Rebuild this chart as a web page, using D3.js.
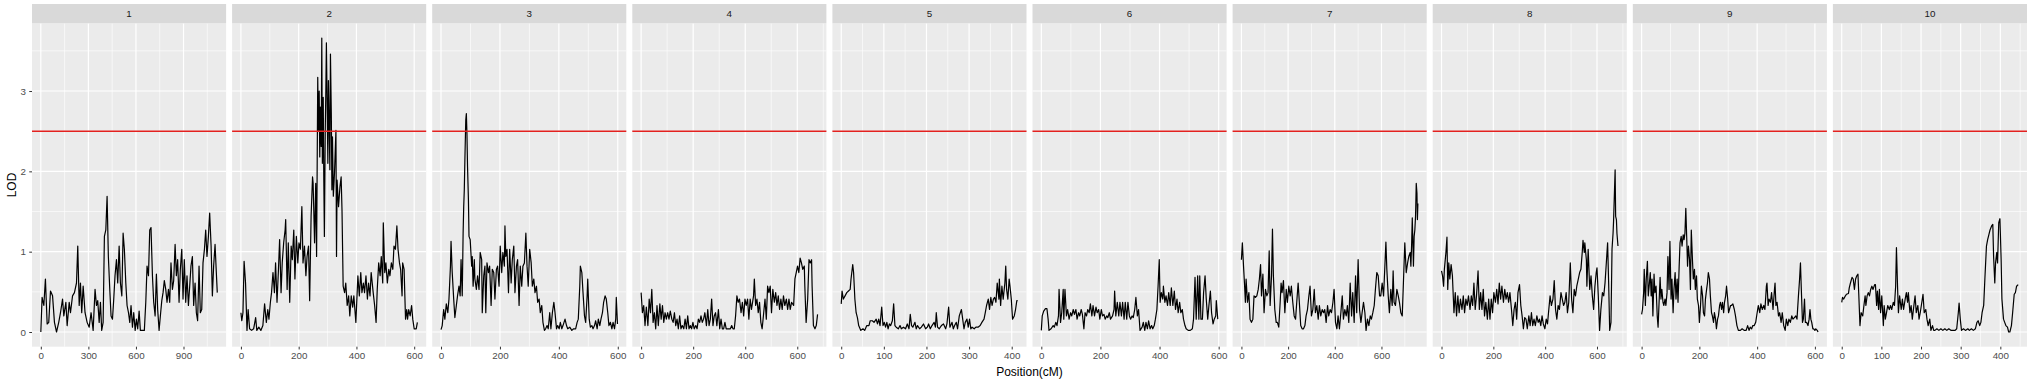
<!DOCTYPE html>
<html>
<head>
<meta charset="utf-8">
<script src="https://cdn.jsdelivr.net/npm/d3@7"></script>
<style>
  body { margin: 0; background: #fff; }
  svg text { font-family: "Liberation Sans", Arial, Helvetica, sans-serif; }
</style>
</head>
<body>
<div id="chart"></div>
<script>
// facet labels (chromosomes)
const chromosomes = ['1', '2', '3', '4', '5', '6', '7', '8', '9', '10'];

// [position (cM), LOD], one array per chromosome
const chr1 = [[0,0],[8,0.43],[19,0.33],[29,0.66],[40,0.1],[50,0.12],[61,0.51],[74,0.45],[86,0.12],[99,0],[113,0.12],[124,0.24],[137,0.41],[145,0.2],[158,0.37],[166,0.08],[179,0.37],[187,0.24],[200,0.45],[212,0.49],[225,0.61],[233,1.07],[242,0.33],[250,0.61],[258,0.24],[267,0.57],[279,0.24],[292,0.12],[305,0.06],[317,0.24],[330,0.02],[342,0.53],[351,0.33],[359,0.39],[368,0.12],[376,0.37],[384,0.02],[393,0.12],[401,1.19],[410,1.27],[418,1.69],[426,0.94],[435,0.53],[443,0.2],[452,0.16],[460,0.41],[468,0.7],[477,0.9],[485,0.61],[494,1.07],[502,0.61],[511,0.45],[519,1.23],[527,1.03],[536,0.61],[544,0.33],[553,0.24],[561,0.12],[569,0.33],[578,0.06],[586,0.24],[595,0.02],[603,0.16],[611,0.04],[620,0.26],[628,0.02],[641,0.02],[653,0.02],[662,0.37],[670,0.82],[679,0.7],[687,1.27],[695,1.3],[704,0.7],[712,0.37],[721,0.2],[729,0.72],[737,0.28],[746,0.02],[754,0.2],[763,0.39],[771,0.49],[779,0.64],[788,0.53],[796,0.37],[805,0.53],[813,0.37],[821,0.86],[830,0.53],[838,0.64],[847,1.09],[855,0.7],[863,0.9],[872,0.37],[880,0.78],[889,1.03],[897,0.41],[905,0.9],[914,0.37],[922,0.7],[931,0.33],[939,0.57],[947,0.82],[956,0.94],[964,0.33],[973,0.61],[981,0.24],[989,0.14],[998,0.82],[1006,0.24],[1015,0.28],[1023,0.86],[1032,1.03],[1040,1.27],[1048,0.94],[1057,1.19],[1065,1.48],[1074,1.07],[1082,0.45],[1090,0.82],[1099,1.09],[1107,0.74],[1113,0.49]];
const chr2 = [[0,0.24],[3,0.14],[7,0.24],[11,0.88],[16,0.61],[21,0.02],[25,0.28],[30,0.04],[37,0.02],[44,0.04],[51,0.18],[55,0.02],[62,0.06],[69,0.02],[76,0.08],[82,0.35],[88,0.12],[93,0.28],[97,0.16],[102,0.37],[106,0.49],[111,0.74],[116,0.49],[120,0.86],[125,0.37],[130,0.78],[134,1.15],[139,0.49],[143,0.86],[148,1.11],[153,1.27],[155,1.4],[160,0.53],[164,1.11],[169,0.37],[174,1.07],[178,0.9],[183,1.27],[187,0.66],[192,1.19],[197,0.86],[201,1.11],[206,1.03],[211,1.56],[215,0.86],[220,1.07],[225,0.7],[229,0.94],[234,1.07],[238,0.39],[243,1.44],[248,1.93],[250,1.85],[255,1.11],[259,1.85],[262,0.94],[266,3.17],[268,2.51],[271,3.0],[273,2.18],[275,2.8],[278,2.31],[280,3.66],[282,2.1],[285,2.92],[287,1.89],[289,1.19],[292,2.51],[294,3.0],[296,3.6],[299,2.72],[301,2.1],[303,3.13],[306,2.51],[308,2.02],[310,3.46],[313,2.72],[315,1.77],[317,2.43],[320,1.69],[324,1.98],[329,2.51],[331,0.94],[333,1.89],[338,1.56],[343,1.81],[347,1.93],[350,1.52],[354,0.57],[359,0.49],[363,0.61],[368,0.33],[373,0.45],[377,0.2],[382,0.45],[387,0.31],[391,0.45],[398,0.12],[405,0.7],[410,0.45],[415,0.74],[419,0.49],[424,0.61],[428,0.49],[433,0.7],[438,0.41],[442,0.61],[447,0.45],[451,0.74],[458,0.49],[463,0.33],[468,0.12],[472,0.53],[477,0.86],[482,0.7],[486,0.94],[491,0.61],[493,1.36],[498,0.74],[502,0.86],[507,0.61],[512,0.78],[516,0.7],[521,0.86],[526,0.78],[530,1.07],[535,1.03],[540,1.32],[544,1.03],[549,0.86],[553,0.78],[558,0.45],[560,0.86],[565,0.78],[567,0.53],[570,0.16],[574,0.28],[577,0.16],[581,0.28],[586,0.2],[591,0.33],[595,0.16],[600,0.04],[607,0.04],[611,0.12]];
const chr3 = [[0,0.03],[4,0.08],[9,0.28],[13,0.16],[18,0.35],[23,0.24],[27,0.41],[32,0.82],[34,1.13],[38,0.74],[43,0.41],[47,0.18],[52,0.33],[56,0.45],[61,0.57],[65,0.45],[68,0.9],[72,0.45],[75,1.23],[77,1.56],[79,1.77],[81,2.14],[84,2.64],[86,2.72],[88,2.47],[90,2.06],[93,1.65],[95,1.19],[99,1.15],[104,0.82],[106,0.94],[109,0.57],[113,0.9],[115,0.66],[120,0.53],[124,0.7],[129,0.53],[133,0.99],[138,0.9],[140,0.24],[145,0.7],[149,0.82],[152,0.24],[156,0.86],[161,0.74],[165,0.82],[170,0.33],[174,0.78],[179,0.74],[183,0.41],[188,0.78],[192,0.82],[197,0.57],[201,1.07],[206,0.74],[210,0.99],[215,0.82],[217,1.32],[220,0.94],[224,1.03],[229,0.49],[233,1.03],[238,0.61],[242,0.9],[247,1.07],[251,0.49],[256,0.82],[260,0.9],[265,0.33],[269,0.82],[274,0.57],[278,0.82],[283,0.86],[288,1.23],[292,0.82],[296,0.57],[301,1.03],[306,0.86],[310,0.57],[315,0.66],[319,0.49],[324,0.57],[328,0.37],[333,0.41],[337,0.24],[342,0.33],[346,0.12],[351,0.02],[355,0.04],[360,0.08],[364,0.04],[369,0.24],[373,0.04],[378,0.24],[383,0.37],[387,0.24],[392,0.04],[396,0.08],[401,0.04],[405,0.12],[410,0.04],[414,0.08],[421,0.16],[426,0.08],[430,0.04],[437,0.06],[444,0.02],[450,0.04],[457,0.04],[462,0.12],[466,0.16],[471,0.57],[473,0.82],[478,0.74],[482,0.49],[487,0.2],[491,0.12],[496,0.45],[498,0.66],[503,0.16],[507,0.06],[512,0.08],[516,0.04],[521,0.08],[525,0.14],[530,0.04],[534,0.16],[539,0.08],[543,0.16],[548,0.24],[552,0.37],[557,0.45],[561,0.41],[566,0.24],[570,0.08],[575,0.12],[580,0.04],[584,0.12],[589,0.04],[593,0.16],[595,0.43],[599,0.1]];
const chr4 = [[0,0.49],[5,0.24],[10,0.33],[15,0.08],[20,0.31],[26,0.08],[31,0.41],[36,0.24],[41,0.53],[46,0.12],[51,0.24],[56,0.04],[61,0.33],[66,0.08],[72,0.35],[77,0.16],[82,0.33],[87,0.12],[92,0.24],[97,0.16],[102,0.24],[107,0.16],[112,0.26],[118,0.16],[123,0.12],[128,0.24],[133,0.08],[138,0.16],[143,0.04],[148,0.2],[153,0.04],[158,0.08],[164,0.04],[169,0.16],[174,0.04],[179,0.2],[184,0.04],[189,0.08],[194,0.04],[199,0.12],[204,0.04],[210,0.08],[215,0.04],[220,0.16],[225,0.12],[230,0.2],[235,0.12],[240,0.16],[245,0.24],[251,0.08],[256,0.28],[261,0.08],[266,0.16],[271,0.41],[276,0.08],[281,0.2],[286,0.24],[291,0.08],[297,0.28],[302,0.04],[307,0.16],[312,0.04],[317,0.04],[322,0.12],[327,0.04],[332,0.04],[338,0.04],[343,0.04],[348,0.08],[353,0.04],[358,0.04],[363,0.2],[368,0.45],[373,0.37],[378,0.41],[384,0.24],[389,0.37],[394,0.2],[399,0.41],[404,0.33],[409,0.41],[414,0.16],[419,0.41],[424,0.28],[432,0.45],[435,0.66],[440,0.33],[445,0.41],[450,0.24],[455,0.37],[460,0.12],[465,0.04],[471,0.24],[476,0.41],[481,0.16],[486,0.57],[491,0.49],[496,0.57],[501,0.24],[506,0.53],[512,0.37],[517,0.49],[522,0.33],[527,0.45],[532,0.28],[537,0.41],[542,0.28],[547,0.45],[552,0.33],[558,0.41],[563,0.28],[568,0.41],[573,0.28],[578,0.37],[586,0.33],[591,0.66],[596,0.74],[601,0.82],[606,0.74],[611,0.92],[616,0.86],[621,0.78],[627,0.82],[629,0.57],[634,0.12],[640,0.41],[645,0.9],[650,0.86],[655,0.9],[657,0.57],[662,0.08],[668,0.04],[673,0.08],[678,0.22]];
const chr5 = [[0,0.35],[2,0.51],[5,0.41],[9,0.45],[13,0.49],[17,0.51],[21,0.53],[23,0.66],[27,0.84],[29,0.74],[32,0.41],[35,0.24],[38,0.18],[41,0.08],[46,0.02],[51,0.04],[55,0.02],[60,0.08],[65,0.08],[68,0.14],[73,0.14],[77,0.12],[82,0.16],[85,0.1],[88,0.16],[91,0.08],[95,0.31],[98,0.08],[101,0.12],[104,0.06],[107,0.12],[110,0.04],[113,0.1],[116,0.08],[120,0.14],[123,0.35],[126,0.08],[129,0.06],[134,0.04],[138,0.08],[141,0.04],[146,0.06],[151,0.04],[155,0.1],[159,0.04],[162,0.22],[165,0.08],[168,0.06],[173,0.12],[176,0.04],[179,0.08],[184,0.04],[188,0.06],[193,0.1],[198,0.04],[202,0.06],[205,0.1],[209,0.04],[213,0.08],[218,0.12],[221,0.06],[223,0.24],[226,0.06],[230,0.04],[235,0.08],[240,0.1],[245,0.04],[248,0.1],[252,0.31],[255,0.06],[260,0.12],[263,0.04],[266,0.08],[270,0.12],[273,0.04],[277,0.2],[282,0.28],[285,0.16],[288,0.04],[291,0.12],[295,0.16],[298,0.06],[301,0.16],[304,0.04],[307,0.06],[312,0.04],[316,0.06],[321,0.06],[326,0.08],[330,0.12],[335,0.16],[338,0.24],[341,0.33],[345,0.41],[348,0.28],[351,0.43],[354,0.33],[357,0.41],[360,0.43],[363,0.37],[366,0.61],[370,0.41],[371,0.66],[374,0.33],[377,0.57],[380,0.41],[384,0.61],[386,0.82],[388,0.53],[391,0.41],[394,0.66],[396,0.57],[399,0.41],[402,0.16],[406,0.2],[409,0.28],[412,0.39],[414,0.39]];
const chr6 = [[0,0.02],[3,0.2],[8,0.26],[14,0.29],[19,0.29],[23,0.16],[26,0.02],[33,0.04],[40,0.08],[44,0.06],[49,0.12],[53,0.08],[58,0.2],[60,0.53],[65,0.12],[69,0.24],[74,0.53],[76,0.16],[80,0.53],[85,0.2],[89,0.28],[94,0.16],[99,0.24],[103,0.2],[108,0.28],[112,0.22],[117,0.28],[121,0.16],[126,0.24],[130,0.2],[135,0.28],[139,0.22],[144,0.04],[148,0.24],[153,0.2],[157,0.28],[162,0.24],[166,0.35],[171,0.2],[175,0.33],[180,0.2],[185,0.31],[189,0.24],[194,0.28],[198,0.16],[203,0.28],[207,0.2],[212,0.22],[216,0.16],[221,0.2],[225,0.18],[230,0.24],[234,0.16],[241,0.2],[246,0.28],[248,0.51],[252,0.2],[257,0.37],[262,0.2],[266,0.37],[271,0.2],[275,0.37],[280,0.16],[284,0.37],[289,0.16],[293,0.37],[298,0.2],[302,0.16],[307,0.2],[311,0.18],[316,0.28],[320,0.43],[325,0.2],[329,0.28],[334,0.02],[341,0.06],[345,0.12],[350,0.02],[354,0.12],[359,0.04],[363,0.14],[368,0.04],[373,0.08],[377,0.04],[382,0.08],[386,0.16],[391,0.28],[395,0.57],[399,0.9],[402,0.37],[406,0.49],[411,0.41],[413,0.57],[418,0.37],[422,0.45],[427,0.33],[431,0.49],[436,0.33],[440,0.55],[445,0.33],[450,0.51],[454,0.28],[459,0.41],[463,0.24],[468,0.37],[472,0.24],[477,0.28],[481,0.16],[486,0.08],[490,0.04],[497,0.02],[504,0.02],[511,0.04],[515,0.16],[520,0.68],[524,0.16],[529,0.7],[533,0.16],[536,0.7],[540,0.16],[545,0.16],[549,0.49],[554,0.7],[558,0.41],[563,0.16],[567,0.33],[572,0.51],[576,0.24],[581,0.1],[585,0.16],[590,0.2],[592,0.39],[597,0.16]];
const chr7 = [[0,0.9],[4,1.11],[9,0.82],[13,0.61],[17,0.37],[20,0.66],[26,0.37],[32,0.49],[37,0.16],[43,0.12],[49,0.16],[54,0.45],[60,0.43],[66,0.45],[72,0.53],[77,0.66],[82,0.84],[86,0.45],[92,0.72],[97,0.24],[103,0.53],[109,0.45],[114,0.49],[119,1.01],[123,0.33],[129,0.7],[133,1.28],[137,0.7],[143,0.28],[149,0.12],[154,0.12],[160,0.06],[166,0.37],[170,0.61],[174,0.49],[180,0.64],[186,0.24],[192,0.53],[197,0.37],[203,0.57],[209,0.45],[214,0.57],[220,0.37],[226,0.2],[232,0.16],[237,0.37],[243,0.61],[249,0.33],[254,0.08],[260,0.04],[266,0.04],[272,0.08],[277,0.2],[283,0.28],[289,0.45],[294,0.57],[300,0.2],[306,0.28],[312,0.53],[317,0.24],[323,0.33],[329,0.16],[334,0.33],[340,0.2],[346,0.28],[352,0.24],[357,0.28],[363,0.12],[369,0.33],[374,0.2],[380,0.28],[386,0.24],[392,0.37],[397,0.53],[403,0.12],[409,0.04],[414,0.2],[420,0.04],[426,0.24],[432,0.45],[437,0.16],[443,0.28],[449,0.2],[454,0.33],[460,0.12],[466,0.61],[472,0.2],[477,0.49],[483,0.12],[489,0.7],[494,0.24],[500,0.9],[506,0.28],[512,0.12],[517,0.24],[523,0.37],[529,0.24],[534,0.02],[540,0.16],[546,0.08],[552,0.2],[557,0.16],[563,0.24],[569,0.33],[574,0.53],[580,0.74],[586,0.7],[592,0.45],[597,0.45],[603,0.61],[609,0.45],[614,0.78],[619,1.12],[623,0.78],[629,0.45],[634,0.24],[640,0.53],[646,0.33],[650,0.76],[654,0.37],[660,0.33],[666,0.53],[672,0.45],[677,0.37],[683,0.24],[689,0.2],[694,0.61],[700,1.11],[706,0.74],[712,0.86],[717,0.94],[723,0.99],[726,0.82],[729,1.07],[732,1.42],[737,0.82],[740,1.19],[743,1.27],[746,1.44],[749,1.85],[752,1.73],[754,1.4],[756,1.6]];
const chr8 = [[0,0.76],[4,0.7],[8,0.57],[11,0.78],[17,0.99],[21,1.18],[24,0.53],[28,0.86],[32,0.66],[37,0.84],[42,0.7],[48,0.24],[53,0.49],[58,0.2],[63,0.45],[68,0.24],[73,0.41],[79,0.28],[84,0.45],[89,0.24],[94,0.41],[99,0.33],[104,0.45],[110,0.28],[115,0.45],[120,0.33],[125,0.61],[130,0.28],[135,0.45],[141,0.76],[146,0.28],[151,0.49],[156,0.28],[161,0.53],[166,0.2],[171,0.37],[177,0.16],[182,0.41],[187,0.16],[192,0.41],[197,0.24],[202,0.49],[208,0.37],[213,0.53],[218,0.35],[223,0.61],[228,0.41],[233,0.57],[239,0.37],[244,0.53],[249,0.41],[254,0.49],[259,0.37],[264,0.49],[270,0.28],[275,0.08],[280,0.28],[285,0.37],[290,0.16],[295,0.49],[301,0.59],[306,0.33],[311,0.2],[316,0.04],[321,0.18],[326,0.16],[331,0.04],[337,0.2],[342,0.08],[347,0.24],[352,0.08],[357,0.16],[362,0.08],[368,0.2],[373,0.12],[378,0.16],[383,0.08],[388,0.2],[393,0.1],[399,0.04],[404,0.16],[409,0.1],[414,0.28],[419,0.45],[424,0.33],[430,0.41],[435,0.64],[440,0.28],[445,0.16],[450,0.33],[455,0.28],[461,0.49],[466,0.41],[471,0.33],[476,0.37],[481,0.49],[486,0.24],[491,0.37],[497,0.86],[502,0.41],[507,0.24],[512,0.53],[517,0.45],[522,0.57],[528,0.66],[533,0.74],[538,0.78],[543,0.99],[546,1.14],[551,0.99],[553,1.11],[559,0.9],[561,0.57],[566,1.03],[572,0.53],[577,0.7],[582,0.45],[587,0.28],[592,0.57],[597,0.74],[600,0.8],[605,0.45],[610,0.02],[615,0.28],[621,0.49],[626,0.45],[631,0.61],[636,0.86],[641,1.11],[645,0.61],[649,0.02],[654,0.12],[658,1.03],[662,1.23],[664,1.38],[670,2.02],[672,1.44],[675,1.4],[677,1.23],[681,1.07]];
const chr9 = [[0,0.22],[3,0.28],[7,0.49],[9,0.78],[13,0.33],[16,0.66],[20,0.88],[23,0.45],[27,0.61],[30,0.74],[33,0.45],[36,0.66],[39,0.2],[43,0.72],[46,0.49],[50,0.57],[54,0.2],[57,0.06],[60,0.33],[64,0.68],[67,0.41],[70,0.53],[74,0.37],[77,0.33],[81,0.41],[84,0.33],[88,0.49],[91,0.94],[95,0.53],[98,1.13],[102,0.41],[105,0.66],[109,0.24],[112,0.53],[116,0.74],[119,0.41],[123,0.66],[126,0.37],[130,0.82],[133,1.11],[137,1.19],[140,1.07],[144,1.21],[147,1.15],[150,1.23],[153,1.54],[156,1.19],[159,0.82],[162,1.07],[166,0.9],[169,0.53],[172,1.27],[176,0.9],[179,0.66],[183,0.78],[186,0.53],[190,0.7],[193,0.41],[197,0.33],[200,0.12],[204,0.33],[207,0.57],[211,0.45],[214,0.24],[218,0.2],[221,0.41],[225,0.53],[228,0.61],[231,0.74],[235,0.66],[238,0.45],[242,0.24],[245,0.2],[249,0.12],[252,0.24],[256,0.16],[259,0.04],[263,0.16],[266,0.2],[270,0.33],[273,0.37],[277,0.28],[280,0.37],[284,0.24],[287,0.37],[291,0.45],[294,0.57],[298,0.41],[301,0.24],[304,0.28],[308,0.33],[311,0.33],[316,0.35],[321,0.28],[325,0.2],[330,0.08],[335,0.02],[342,0.02],[348,0.04],[355,0.02],[362,0.02],[367,0.08],[372,0.02],[376,0.06],[381,0.04],[385,0.08],[390,0.08],[395,0.12],[400,0.24],[404,0.33],[409,0.24],[413,0.35],[418,0.28],[423,0.33],[427,0.28],[432,0.57],[434,0.61],[438,0.33],[441,0.41],[446,0.37],[450,0.49],[455,0.28],[460,0.53],[462,0.61],[465,0.33],[469,0.37],[474,0.2],[478,0.24],[483,0.12],[487,0.24],[492,0.08],[497,0.02],[501,0.16],[506,0.08],[510,0.16],[515,0.12],[520,0.2],[524,0.16],[529,0.18],[534,0.2],[538,0.16],[543,0.45],[547,0.66],[550,0.86],[553,0.53],[557,0.12],[560,0.16],[564,0.41],[567,0.12],[571,0.12],[576,0.08],[580,0.16],[583,0.28],[586,0.16],[589,0.12],[593,0.04],[596,0.04],[600,0.02],[603,0.04],[608,0.02],[611,0]];
const chr10 = [[0,0.37],[2,0.43],[5,0.41],[8,0.44],[12,0.47],[17,0.48],[19,0.55],[22,0.61],[26,0.68],[29,0.66],[32,0.53],[35,0.66],[38,0.7],[41,0.72],[43,0.47],[46,0.08],[49,0.24],[53,0.2],[56,0.33],[59,0.45],[61,0.33],[64,0.45],[67,0.49],[70,0.45],[73,0.53],[76,0.57],[79,0.53],[83,0.59],[85,0.59],[88,0.33],[90,0.51],[93,0.28],[95,0.53],[98,0.24],[101,0.45],[105,0.08],[107,0.33],[110,0.16],[113,0.24],[116,0.33],[120,0.28],[123,0.33],[126,0.28],[130,0.37],[133,0.33],[136,0.57],[138,1.05],[141,0.53],[143,0.24],[146,0.45],[150,0.28],[153,0.41],[156,0.28],[160,0.41],[163,0.49],[166,0.37],[168,0.49],[172,0.24],[175,0.33],[178,0.16],[182,0.33],[185,0.45],[188,0.24],[192,0.33],[195,0.16],[198,0.24],[202,0.37],[205,0.47],[208,0.24],[212,0.28],[215,0.16],[218,0.08],[222,0.16],[225,0.02],[229,0.08],[232,0.02],[235,0.02],[240,0.04],[245,0.02],[250,0.04],[255,0.02],[260,0.04],[265,0.02],[270,0.04],[276,0.02],[281,0.02],[286,0.02],[290,0.04],[294,0.24],[296,0.36],[299,0.16],[302,0.02],[307,0.04],[312,0.02],[318,0.04],[322,0.02],[327,0.04],[332,0.02],[337,0.04],[341,0.12],[344,0.14],[348,0.08],[351,0.12],[354,0.24],[358,0.33],[361,0.66],[365,1.07],[368,1.15],[371,1.21],[374,1.27],[378,1.32],[381,1.34],[383,0.94],[386,0.61],[388,0.86],[391,0.99],[393,0.86],[396,1.36],[399,1.41],[402,0.9],[404,0.41],[408,0.16],[411,0.12],[414,0.08],[418,0.06],[421,0],[424,0],[428,0.08],[431,0.24],[435,0.47],[438,0.49],[441,0.57],[445,0.59]];

const lodData = [chr1, chr2, chr3, chr4, chr5, chr6, chr7, chr8, chr9, chr10];

// tick labels per facet (free x scales) and the shared LOD axis
const xTicks = [
    [0, 300, 600, 900],
    [0, 200, 400, 600],
    [0, 200, 400, 600],
    [0, 200, 400, 600],
    [0, 100, 200, 300, 400],
    [0, 200, 400, 600],
    [0, 200, 400, 600],
    [0, 200, 400, 600],
    [0, 200, 400, 600],
    [0, 100, 200, 300, 400]
];
const yTicks = [0, 1, 2, 3];
const threshold = 2.5;

const xTitle = 'Position(cM)';
const yTitle = 'LOD';

// layout
const W = 2032, H = 383;
const plotLeft = 32, plotRight = 2027, gap = 6;
const stripTop = 4, stripBottom = 23.3, panelBottom = 346.7;
const panelW = (plotRight - plotLeft - gap * (chromosomes.length - 1)) / chromosomes.length;

const svg = d3.select('#chart')
    .append('svg')
    .attr('width', W)
    .attr('height', H)
    .style('background', '#fff');

// shared y scale with ggplot-style 5% expansion
const allLod = lodData.flat().map(d => d[1]).concat(threshold);
const yLo = d3.min(allLod), yHi = d3.max(allLod);
const yPad = (yHi - yLo) * 0.05;
const y = d3.scaleLinear()
    .domain([yLo - yPad, yHi + yPad])
    .range([panelBottom, stripBottom]);

// minor breaks halfway between the major ones, kept inside the domain
function minorBreaks(major, domain) {
    const step = major[1] - major[0];
    const out = [];
    for (let k = Math.floor(domain[0] / step) - 1; k <= Math.ceil(domain[1] / step); k++) {
        const v = (k + 0.5) * step;
        if (v >= domain[0] && v <= domain[1]) out.push(v);
    }
    return out;
}

const yMinor = minorBreaks(yTicks, y.domain());

lodData.forEach((data, i) => {
    const x0 = plotLeft + i * (panelW + gap);
    const ext = d3.extent(data, d => d[0]);
    const pad = (ext[1] - ext[0]) * 0.05;
    const x = d3.scaleLinear()
        .domain([ext[0] - pad, ext[1] + pad])
        .range([0, panelW]);

    const g = svg.append('g').attr('transform', `translate(${x0},0)`);

    // panel background
    g.append('rect')
        .attr('x', 0)
        .attr('y', stripBottom)
        .attr('width', panelW)
        .attr('height', panelBottom - stripBottom)
        .attr('fill', '#EBEBEB');

    // minor grid
    g.selectAll('.vminor')
        .data(minorBreaks(xTicks[i], x.domain()))
        .enter()
        .append('line')
        .attr('x1', d => x(d)).attr('x2', d => x(d))
        .attr('y1', stripBottom).attr('y2', panelBottom)
        .attr('stroke', '#fff')
        .attr('stroke-width', 0.6);

    g.selectAll('.hminor')
        .data(yMinor)
        .enter()
        .append('line')
        .attr('x1', 0).attr('x2', panelW)
        .attr('y1', d => y(d)).attr('y2', d => y(d))
        .attr('stroke', '#fff')
        .attr('stroke-width', 0.6);

    // major grid
    g.selectAll('.vmajor')
        .data(xTicks[i])
        .enter()
        .append('line')
        .attr('x1', d => x(d)).attr('x2', d => x(d))
        .attr('y1', stripBottom).attr('y2', panelBottom)
        .attr('stroke', '#fff')
        .attr('stroke-width', 1.2);

    g.selectAll('.hmajor')
        .data(yTicks)
        .enter()
        .append('line')
        .attr('x1', 0).attr('x2', panelW)
        .attr('y1', d => y(d)).attr('y2', d => y(d))
        .attr('stroke', '#fff')
        .attr('stroke-width', 1.2);

    // LOD profile
    const line = d3.line()
        .x(d => x(d[0]))
        .y(d => y(d[1]));

    g.append('path')
        .datum(data)
        .attr('d', line)
        .attr('fill', 'none')
        .attr('stroke', '#000')
        .attr('stroke-width', 1.2)
        .attr('stroke-linejoin', 'round');

    // threshold line
    g.append('line')
        .attr('x1', 0).attr('x2', panelW)
        .attr('y1', y(threshold)).attr('y2', y(threshold))
        .attr('stroke', '#E3211F')
        .attr('stroke-width', 1.5);

    // facet strip
    g.append('rect')
        .attr('x', 0)
        .attr('y', stripTop)
        .attr('width', panelW)
        .attr('height', stripBottom - stripTop)
        .attr('fill', '#D9D9D9');

    g.append('text')
        .attr('x', panelW / 2)
        .attr('y', (stripTop + stripBottom) / 2)
        .attr('dy', '0.35em')
        .attr('text-anchor', 'middle')
        .attr('font-size', 9.8)
        .attr('fill', '#1A1A1A')
        .text(chromosomes[i]);

    // x axis
    const xAxis = g.append('g')
        .attr('transform', `translate(0,${panelBottom})`)
        .call(d3.axisBottom(x).tickValues(xTicks[i]).tickSize(2.75).tickPadding(2.6).tickFormat(d3.format('d')));
    xAxis.select('.domain').remove();
    xAxis.selectAll('line').attr('stroke', '#333333');
    xAxis.selectAll('text')
        .attr('fill', '#4D4D4D')
        .attr('font-size', 9.8)
        .style('font-family', '"Liberation Sans", Arial, sans-serif');
});

// y axis on the first facet only
const yAxis = svg.append('g')
    .attr('transform', `translate(${plotLeft},0)`)
    .call(d3.axisLeft(y).tickValues(yTicks).tickSize(2.75).tickPadding(3.4).tickFormat(d3.format('d')));
yAxis.select('.domain').remove();
yAxis.selectAll('line').attr('stroke', '#333333');
yAxis.selectAll('text')
    .attr('fill', '#4D4D4D')
    .attr('font-size', 9.8)
    .style('font-family', '"Liberation Sans", Arial, sans-serif');

// axis titles
svg.append('text')
    .attr('x', (plotLeft + plotRight) / 2)
    .attr('y', 376)
    .attr('text-anchor', 'middle')
    .attr('font-size', 12)
    .attr('fill', '#000')
    .text(xTitle);

svg.append('text')
    .attr('transform', `translate(11.3,${(stripBottom + panelBottom) / 2}) rotate(-90)`)
    .attr('dy', '0.35em')
    .attr('text-anchor', 'middle')
    .attr('font-size', 12)
    .attr('fill', '#000')
    .text(yTitle);
</script>
</body>
</html>
